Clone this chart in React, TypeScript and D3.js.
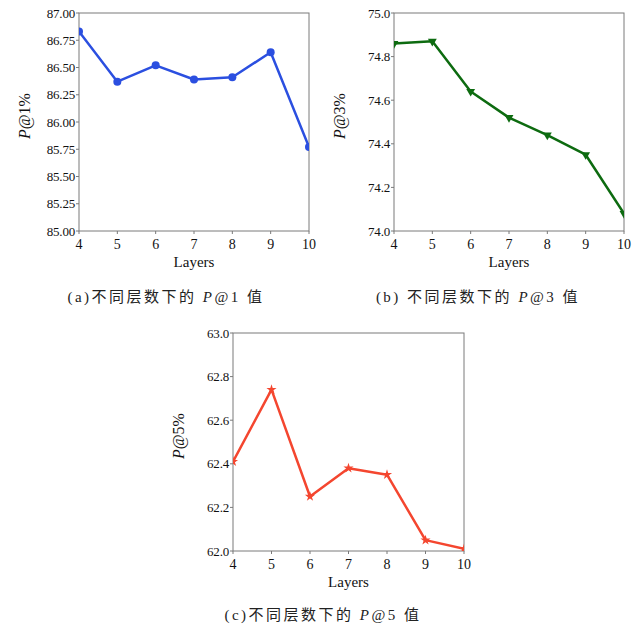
import React, { useEffect } from "react";
import * as d3 from "d3";

const layers = [4, 5, 6, 7, 8, 9, 10];
const p1Values = [86.83, 86.37, 86.52, 86.39, 86.41, 86.64, 85.77];
const p3Values = [74.86, 74.87, 74.64, 74.52, 74.44, 74.35, 74.08];
const p5Values = [62.41, 62.74, 62.25, 62.38, 62.35, 62.05, 62.01];
const p1Ticks = [85.0, 85.25, 85.5, 85.75, 86.0, 86.25, 86.5, 86.75, 87.0];
const p3Ticks = [74.0, 74.2, 74.4, 74.6, 74.8, 75.0];
const p5Ticks = [62.0, 62.2, 62.4, 62.6, 62.8, 63.0];

const serif = "'Liberation Serif', 'DejaVu Serif', serif";
const cjk = "'Liberation Serif', 'Noto Sans CJK SC', serif";

type PanelProps = {
  id: string;
  left: number;
  top: number;
  width: number;
  height: number;
  values: number[];
  ticks: number[];
  decimals: number;
  color: string;
  marker: "circle" | "tri" | "star";
  yLabel: string;
  captionPre: string;
  captionNum: string;
  captionX: number;
  captionY: number;
};

function Panel(p: PanelProps) {
  const x = d3.scaleLinear().domain([4, 10]).range([p.left, p.left + p.width]);
  const y = d3
    .scaleLinear()
    .domain([p.ticks[0], p.ticks[p.ticks.length - 1]])
    .range([p.top + p.height, p.top]);
  const line = d3
    .line<number>()
    .x((_, i) => x(layers[i]))
    .y((v) => y(v));
  const starPath = d3.symbol(d3.symbolStar, 32)()!;
  const triPath = d3.symbol(d3.symbolTriangle, 34)()!;
  const frame = "#7a7a7a";
  const bottom = p.top + p.height;
  return (
    <g>
      <defs>
        <clipPath id={p.id}>
          <rect x={p.left} y={p.top} width={p.width} height={p.height} />
        </clipPath>
      </defs>
      <rect x={p.left} y={p.top} width={p.width} height={p.height} fill="none" stroke={frame} strokeWidth={1} />
      {p.ticks.map((t) => (
        <g key={"y" + t}>
          <line x1={p.left - 3} x2={p.left} y1={y(t)} y2={y(t)} stroke={frame} />
          <text x={p.left - 4} y={y(t)} dy="0.35em" textAnchor="end" fontFamily={serif} fontSize={13} fill="#111" letterSpacing={-0.2}>
            {t.toFixed(p.decimals)}
          </text>
        </g>
      ))}
      {layers.map((l) => (
        <g key={"x" + l}>
          <line x1={x(l)} x2={x(l)} y1={bottom} y2={bottom + 3} stroke={frame} />
          <text x={x(l)} y={bottom + 18} textAnchor="middle" fontFamily={serif} fontSize={14} fill="#111">
            {l}
          </text>
        </g>
      ))}
      <text x={p.left + p.width / 2} y={bottom + 36} textAnchor="middle" fontFamily={serif} fontSize={15} fill="#111">
        Layers
      </text>
      <text
        transform={`translate(${p.left - 49},${p.top + p.height / 2 - 6}) rotate(-90)`}
        textAnchor="middle"
        fontFamily={serif}
        fontSize={16}
        fill="#111"
      >
        <tspan fontStyle="italic">P</tspan>
        {p.yLabel}
      </text>
      <g clipPath={`url(#${p.id})`}>
        <path d={line(p.values)!} fill="none" stroke={p.color} strokeWidth={2.5} strokeLinejoin="round" />
        {p.values.map((v, i) => {
          const cx = x(layers[i]);
          const cy = y(v);
          if (p.marker === "circle") return <circle key={i} cx={cx} cy={cy} r={4} fill={p.color} />;
          if (p.marker === "tri")
            return <path key={i} d={triPath} transform={`translate(${cx},${cy}) rotate(180)`} fill={p.color} />;
          return <path key={i} d={starPath} transform={`translate(${cx},${cy})`} fill={p.color} />;
        })}
      </g>
      <text x={p.captionX} y={p.captionY} textAnchor="middle" fontFamily={cjk} fontSize={15} fill="#222" letterSpacing={2.5}>
        {p.captionPre}
        <tspan fontStyle="italic">P</tspan>
        {p.captionNum}
      </text>
    </g>
  );
}

export default function App() {
  useEffect(() => {
    document.body.style.margin = "0";
  }, []);
  return (
    <svg width={640} height={629} style={{ display: "block", background: "#fff" }}>
      <rect width={640} height={629} fill="#fff" />
      <Panel
        id="ca"
        left={79}
        top={13}
        width={230}
        height={218}
        values={p1Values}
        ticks={p1Ticks}
        decimals={2}
        color="#2b4fe0"
        marker="circle"
        yLabel="@1%"
        captionPre="(a)不同层数下的 "
        captionNum="@1 值"
        captionX={166}
        captionY={302}
      />
      <Panel
        id="cb"
        left={394}
        top={13}
        width={230}
        height={218}
        values={p3Values}
        ticks={p3Ticks}
        decimals={1}
        color="#0d6b10"
        marker="tri"
        yLabel="@3%"
        captionPre="(b) 不同层数下的 "
        captionNum="@3 值"
        captionX={478}
        captionY={302}
      />
      <Panel
        id="cc"
        left={233}
        top={333}
        width={231}
        height={218}
        values={p5Values}
        ticks={p5Ticks}
        decimals={1}
        color="#f4462f"
        marker="star"
        yLabel="@5%"
        captionPre="(c)不同层数下的 "
        captionNum="@5 值"
        captionX={323}
        captionY={620}
      />
    </svg>
  );
}
